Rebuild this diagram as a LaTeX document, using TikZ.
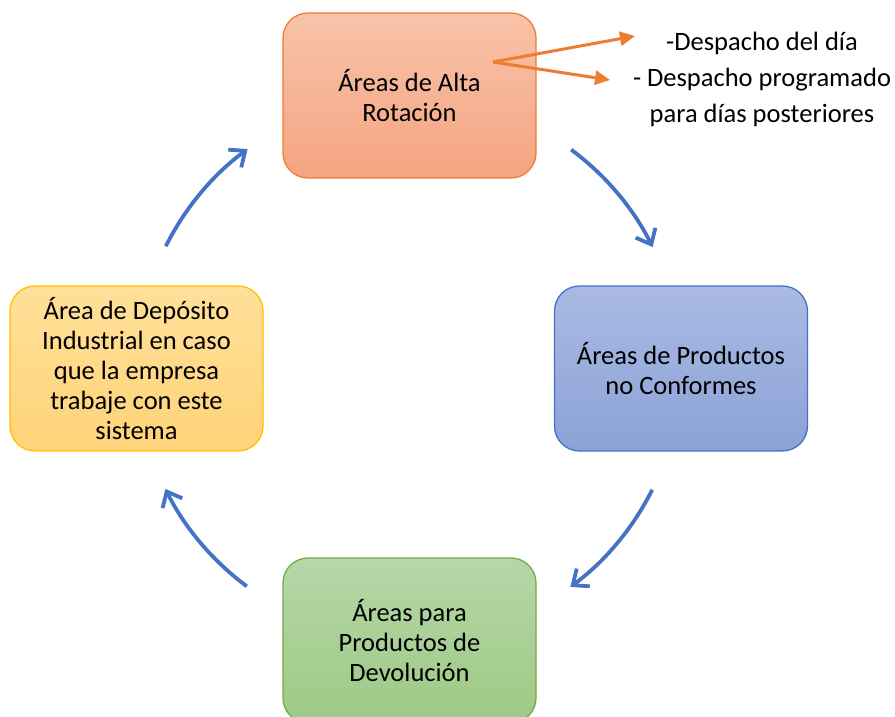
\documentclass[tikz,border=0pt]{standalone}
\usepackage{fontspec}
\setmainfont{Carlito}
\usetikzlibrary{arrows.meta}
\definecolor{orB}{HTML}{ED7D31}
\definecolor{orT}{HTML}{F8C3AA}
\definecolor{orD}{HTML}{F4A481}
\definecolor{blB}{HTML}{4472C4}
\definecolor{blT}{HTML}{AABAE2}
\definecolor{blD}{HTML}{8BA2D8}
\definecolor{grB}{HTML}{70AD47}
\definecolor{grT}{HTML}{B6D7A8}
\definecolor{grD}{HTML}{9DC985}
\definecolor{yeB}{HTML}{FFC000}
\definecolor{yeT}{HTML}{FFE09A}
\definecolor{yeD}{HTML}{FFD378}
\tikzset{
  box/.style={rounded corners=25pt, minimum width=253pt, minimum height=165pt,
    inner sep=0pt, align=center, line width=1.3pt,
    font=\fontsize{26.5}{30}\selectfont},
  cyc/.style={draw=blB, line width=3.8pt, -{Straight Barb[length=13pt,width=22pt]}},
  oarr/.style={draw=orB, line width=3pt, -{Triangle[length=15pt,width=14pt]}}
}
\begin{document}
\begin{tikzpicture}[x=1pt,y=1pt]
\clip (0,0) rectangle (895,717);
\node[box, draw=orB, top color=orT, bottom color=orD] (top) at (409.5,621.5) {Áreas de Alta\\Rotación};
\node[box, draw=blB, top color=blT, bottom color=blD] (right) at (681,348.5) {Áreas de Productos\\no Conformes};
\node[box, draw=grB, top color=grT, bottom color=grD] (bottom) at (409.5,76.5) {Áreas para\\Productos de\\Devolución};
\node[box, draw=yeB, top color=yeT, bottom color=yeD] (left) at (136.5,348.5) {Área de Depósito\\Industrial en caso\\que la empresa\\trabaje con este\\sistema};
\node[align=center, inner sep=0pt, font=\fontsize{26.5}{36}\selectfont] (desp) at (762,638) {-Despacho del día\\- Despacho programado\\para días posteriores};
\coordinate (c) at (409,349);
\coordinate (o0) at (493,655);
\coordinate (o1) at (635,681);
\coordinate (o2) at (610,637);
\draw[oarr] (o0) -- (o1);
\draw[oarr] (o0) -- (o2);
\draw[cyc] ([shift={(53.4:272)}]c) arc[start angle=53.4, end angle=26.4, radius=272];
\draw[cyc] ([shift={(-26.6:272)}]c) arc[start angle=-26.6, end angle=-53.6, radius=272];
\draw[cyc] ([shift={(-126.6:272)}]c) arc[start angle=-126.6, end angle=-153.6, radius=272];
\draw[cyc] ([shift={(153.4:272)}]c) arc[start angle=153.4, end angle=126.4, radius=272];
\end{tikzpicture}
\end{document}
